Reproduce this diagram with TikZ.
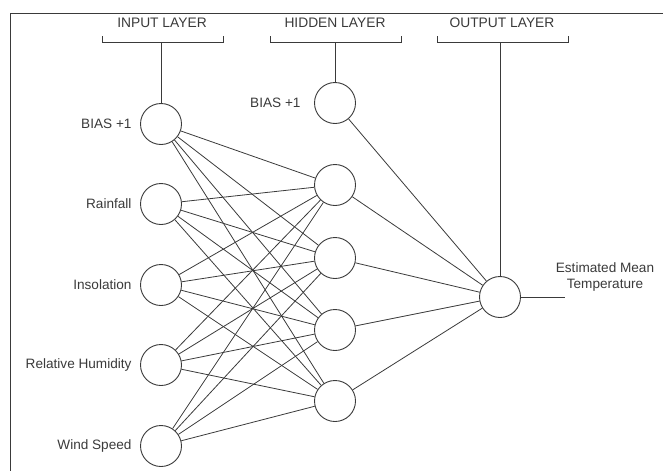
\documentclass[tikz,border=0pt]{standalone}
\usepackage{fontspec}
\setmainfont{Liberation Sans}
\usetikzlibrary{positioning}
\definecolor{netgray}{HTML}{3A3A3A}

\begin{document}
\begin{tikzpicture}[
  x=1pt, y=-1pt,
  every node/.style={font=\fontsize{13.6}{15}\selectfont, text=netgray},
  neuron/.style={circle, draw=netgray, line width=0.9pt, minimum size=41pt, inner sep=0pt, fill=white},
  lbl/.style={font=\fontsize{13.6}{15.5}\selectfont, text=netgray},
  head/.style={font=\fontsize{13.8}{15}\selectfont},
  wire/.style={draw=netgray, line width=0.8pt},
  brk/.style={draw=netgray, line width=0.9pt}
]
\useasboundingbox (0,0) rectangle (663,471);

% Frame
\draw[netgray, line width=0.9pt] (663,13) -- (10,13) -- (10,471);

% Layer headings
\node[head] (hin)  at (162,23) {INPUT LAYER};
\node[head] (hhid) at (335,23) {HIDDEN LAYER};
\node[head] (hout) at (502,23) {OUTPUT LAYER};

% Brackets
\draw[brk] (102,36) -- (102,42) -- (223,42) -- (223,36);
\draw[brk] (270,36) -- (270,42) -- (401,42) -- (401,36);
\draw[brk] (437,36) -- (437,42) -- (568,42) -- (568,36);
\coordinate (bin)  at (161,42);
\coordinate (bhid) at (335,42);
\coordinate (bout) at (500,42);

% Input layer
\node[neuron, label={[lbl, xshift=-5pt]left:BIAS +1}] (I0) at (161,124) {};
\node[neuron, label={[lbl, xshift=-5pt]left:Rainfall}] (I1) at (161,204) {};
\node[neuron, label={[lbl, xshift=-5pt]left:Insolation}] (I2) at (161,285) {};
\node[neuron, label={[lbl, xshift=-5pt]left:Relative Humidity}] (I3) at (161,365) {};
\node[neuron, label={[lbl, xshift=-5pt]left:Wind Speed}] (I4) at (161,446) {};

% Hidden layer
\node[neuron, label={[lbl, xshift=-10pt]left:BIAS +1}] (H0) at (335,103) {};
\node[neuron] (H1) at (335,185) {};
\node[neuron] (H2) at (335,258) {};
\node[neuron] (H3) at (335,330) {};
\node[neuron] (H4) at (335,401) {};

% Output layer
\node[neuron] (O) at (500,297) {};
\coordinate (oend) at (565,297);
\node[lbl, align=center] (olbl) at (605,277) {Estimated Mean\\Temperature};

% Heading stems
\draw[wire] (bin) -- (I0);
\draw[wire] (bhid) -- (H0);
\draw[wire] (bout) -- (O);

% Input -> hidden
\foreach \i in {0,...,4}
  \foreach \h in {1,...,4}
    \draw[wire] (I\i) -- (H\h);

% Hidden -> output
\foreach \h in {0,...,4}
  \draw[wire] (H\h) -- (O);
\draw[wire] (O) -- (oend);

\end{tikzpicture}
\end{document}
